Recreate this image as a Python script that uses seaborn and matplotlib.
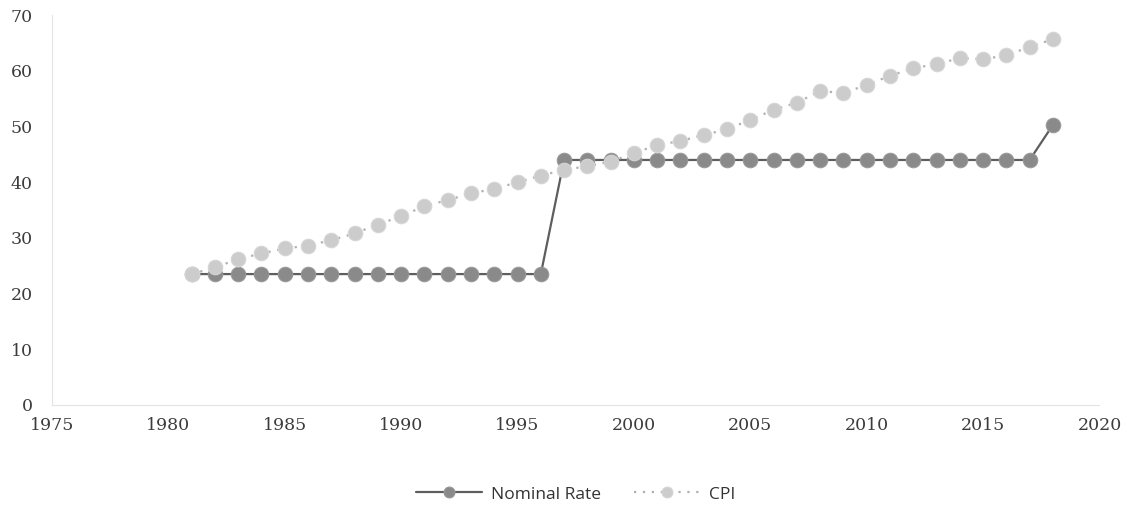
import pandas as pd
import numpy as np
import matplotlib
matplotlib.use('Agg')
import matplotlib.pyplot as plt
import seaborn as sns

########################################
# DATA
########################################
years = list(range(1981, 2019))
nominal_rate = [23.5] * 16 + [44.0] * 21 + [50.3]
cpi = [23.5, 24.7, 26.2, 27.2, 28.1, 28.6, 29.6, 30.8, 32.4, 33.9,
       35.7, 36.8, 38.0, 38.8, 40.0, 41.2, 42.2, 42.9, 43.7, 45.2,
       46.7, 47.4, 48.5, 49.5, 51.2, 53.0, 54.3, 56.4, 56.0, 57.5,
       59.1, 60.5, 61.2, 62.3, 62.1, 62.8, 64.3, 65.7]

df = pd.DataFrame({"Year": years, "Nominal Rate": nominal_rate, "CPI": cpi})

########################################
# PLOT
########################################
sns.set_style("white")
plt.rcParams['font.family'] = ['DejaVu Serif', 'DejaVu Sans']

fig = plt.figure(figsize=(11.3, 5.08), dpi=100)
ax = fig.add_axes([0.046, 0.203, 0.927, 0.767])

sns.lineplot(data=df, x="Year", y="Nominal Rate", ax=ax, color="#5e5e5e",
             linewidth=1.6, marker="o", markersize=10.5,
             markerfacecolor="#8a8a8a", markeredgecolor="#9a9a9a",
             label="Nominal Rate")
sns.lineplot(data=df, x="Year", y="CPI", ax=ax, color="#b0b0b0",
             linewidth=1.6, linestyle=(0, (1, 3)), marker="o", markersize=10.5,
             markerfacecolor="#cccccc", markeredgecolor="#d6d6d6",
             label="CPI")

ax.set_xlim(1975, 2020)
ax.set_ylim(0, 70)
ax.set_xticks(range(1975, 2021, 5))
ax.set_yticks(range(0, 71, 10))
ax.set_xlabel("")
ax.set_ylabel("")
ax.tick_params(axis="both", labelsize=12.5, colors="#3c3c3c", length=0)
ax.tick_params(axis="y", pad=14)
ax.tick_params(axis="x", pad=9)

for side in ["top", "right"]:
    ax.spines[side].set_visible(False)
for side in ["left", "bottom"]:
    ax.spines[side].set_color("#e4e4e4")
    ax.spines[side].set_linewidth(0.8)

leg = ax.legend(loc="center", bbox_to_anchor=(0.5, -0.23), ncol=2,
                frameon=False, prop={"family": "Open Sans", "size": 12.5},
                handlelength=3.8, handletextpad=0.5, columnspacing=1.9,
                markerscale=0.75)
for t in leg.get_texts():
    t.set_color("#333333")

plt.savefig("out.png", dpi=100)
plt.close()
